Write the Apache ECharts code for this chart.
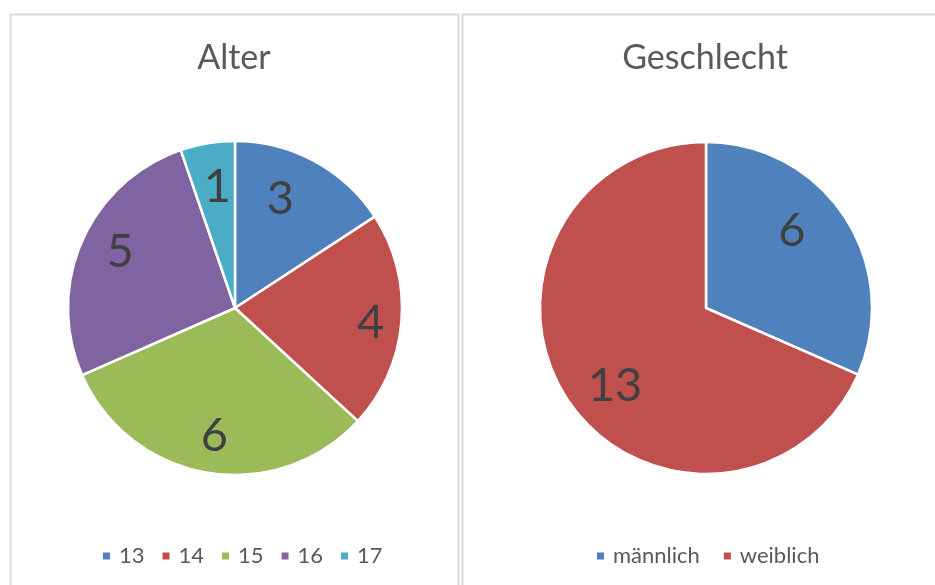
<!DOCTYPE html>
<html><head><meta charset="utf-8">
<script src="https://cdn.jsdelivr.net/npm/echarts@6/dist/echarts.min.js"></script>
<style>html,body{margin:0;padding:0;background:#fff}#c{width:935px;height:585px}</style>
</head><body><div id="c"></div>
<script>
const alterCategories = ['13','14','15','16','17'];
const alterValues = [3,4,6,5,1];
const geschlechtCategories = ['männlich','weiblich'];
const geschlechtValues = [6,13];
// label nudges (styling only, pixels)
const alterLabelOffsets = [[-15.6,3.2],[7.7,4.2],[0.6,1],[2.7,-4.7],[3.6,5.5]];
const geschlechtLabelOffsets = [[-15.2,-11.5],[10.2,12]];
const colors = ['#4F81BD','#C0504D','#9BBB59','#8064A2','#4BACC6'];
const FONT = 'Lato';

function pieData(cats, vals){ return cats.map((c,i)=>({name:c, value:vals[i], itemStyle:{color:colors[i]}})); }

const chart = echarts.init(document.getElementById('c'), null, {renderer:'canvas'});
function pieSeries(cats, vals, offs, center, R, innerFrac){
  return [
    {type:'pie', center:center, radius:[0,R], startAngle:90, clockwise:true, silent:true,
     data:pieData(cats,vals), label:{show:false}, labelLine:{show:false},
     itemStyle:{borderColor:'#fff', borderWidth:2.5}},
    {type:'pie', center:center, radius:[R*innerFrac,R], startAngle:90, clockwise:true, silent:true,
     data:pieData(cats,vals).map((d,i)=>({...d, itemStyle:{color:'rgba(0,0,0,0)'}, label:{offset:offs[i]}})),
     itemStyle:{color:'rgba(0,0,0,0)', borderWidth:0},
     label:{show:true, position:'inside', formatter:'{c}', fontFamily:FONT, fontSize:47, color:'#404040'},
     labelLine:{show:false}, legendHoverLink:false}
  ];
}
const legendBase = {orient:'horizontal', icon:'rect', itemWidth:9, itemHeight:9, selectedMode:false,
  textStyle:{fontFamily:FONT, fontSize:22, color:'#595959', padding:[0,0,0,3]}};
chart.setOption({
  animation:false,
  graphic:[
    {type:'rect', shape:{x:10.5,y:14.5,width:448,height:600}, style:{fill:'none', stroke:'#d9d9d9', lineWidth:2}},
    {type:'rect', shape:{x:462.5,y:14.5,width:500,height:600}, style:{fill:'none', stroke:'#d9d9d9', lineWidth:2}}
  ],
  title:[
    {text:'Alter', left:229, top:36, textAlign:'center', textStyle:{fontFamily:FONT, fontSize:34, fontWeight:'normal', color:'#595959'}},
    {text:'Geschlecht', left:700, top:36, textAlign:'center', textStyle:{fontFamily:FONT, fontSize:34, fontWeight:'normal', color:'#595959'}}
  ],
  legend:[
    {...legendBase, data:alterCategories.map((c,i)=>({name:c, itemStyle:{color:colors[i]}})), left:96, top:540, itemGap:16},
    {...legendBase, data:geschlechtCategories.map((c,i)=>({name:c, itemStyle:{color:colors[i]}})), left:590, top:540, itemGap:22}
  ],
  series:[
    ...pieSeries(alterCategories, alterValues, alterLabelOffsets, [235,308], 167, 0.5),
    ...pieSeries(geschlechtCategories, geschlechtValues, geschlechtLabelOffsets, [706,308], 166, 0.42)
  ]
});
</script></body></html>
